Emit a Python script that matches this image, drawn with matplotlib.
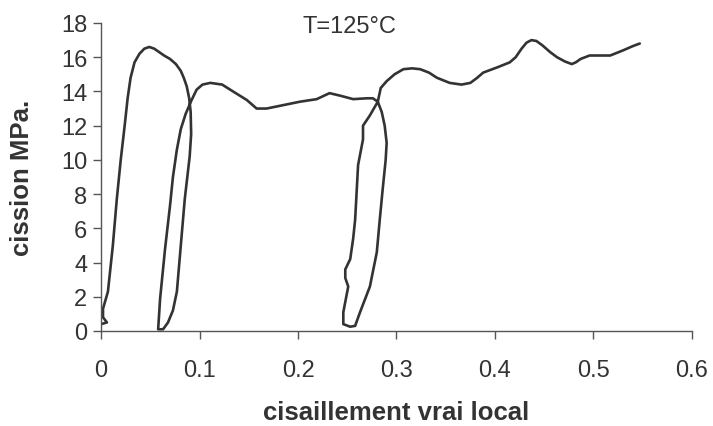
import matplotlib
matplotlib.use("Agg")
import matplotlib.pyplot as plt

# Courbe cission / cisaillement (un seul tracé continu avec décharges)
cisaillement = [
    0.000, 0.006, 0.002, 0.002, 0.007, 0.012, 0.016, 0.020, 0.024, 0.027,
    0.030, 0.034, 0.039, 0.044, 0.049, 0.054, 0.059, 0.064, 0.070, 0.076,
    0.081, 0.084, 0.087, 0.0895, 0.091, 0.0915, 0.090, 0.088, 0.085, 0.081,
    0.077, 0.073, 0.068, 0.063, 0.058, 0.060, 0.065, 0.070, 0.073, 0.077,
    0.081, 0.086, 0.092, 0.097, 0.103, 0.111, 0.123, 0.134, 0.148, 0.158,
    0.168, 0.185, 0.202, 0.219, 0.232, 0.243, 0.256, 0.270, 0.276, 0.281,
    0.285, 0.288, 0.290, 0.289, 0.286, 0.283, 0.280, 0.273, 0.263, 0.258,
    0.253, 0.246, 0.246, 0.249, 0.251, 0.248, 0.248, 0.253, 0.256, 0.258,
    0.261, 0.266, 0.266, 0.273, 0.281, 0.284, 0.290, 0.298, 0.307, 0.316,
    0.324, 0.333, 0.341, 0.354, 0.366, 0.375, 0.382, 0.388, 0.402, 0.415,
    0.421, 0.427, 0.432, 0.437, 0.442, 0.448, 0.456, 0.463, 0.471, 0.478,
    0.482, 0.487, 0.496, 0.507, 0.517, 0.530, 0.540, 0.547,
]
cission = [
    0.4, 0.5, 0.8, 1.3, 2.3, 5.0, 7.7, 10.0, 12.0, 13.6,
    14.8, 15.7, 16.2, 16.5, 16.6, 16.5, 16.3, 16.1, 15.9, 15.6,
    15.2, 14.8, 14.3, 13.6, 12.8, 11.5, 10.2, 9.2, 7.7, 5.0,
    2.3, 1.2, 0.5, 0.1, 0.1, 1.9, 4.8, 7.3, 9.0, 10.6,
    11.8, 12.7, 13.5, 14.1, 14.4, 14.5, 14.4, 14.0, 13.5, 13.0,
    13.0, 13.2, 13.4, 13.55, 13.9, 13.75, 13.55, 13.6, 13.6, 13.4,
    12.8, 12.0, 11.0, 10.0, 8.3, 6.5, 4.6, 2.6, 1.1, 0.3,
    0.25, 0.4, 1.1, 2.0, 2.6, 3.1, 3.6, 4.2, 5.4, 6.5,
    9.7, 11.2, 12.0, 12.6, 13.4, 14.2, 14.6, 15.0, 15.3, 15.35,
    15.3, 15.1, 14.8, 14.5, 14.4, 14.5, 14.8, 15.1, 15.4, 15.7,
    16.0, 16.5, 16.85, 17.0, 16.95, 16.7, 16.3, 16.0, 15.75, 15.6,
    15.7, 15.9, 16.1, 16.1, 16.1, 16.4, 16.65, 16.8,
]

x_ticks = [0, 0.1, 0.2, 0.3, 0.4, 0.5, 0.6]
x_labels = ["0", "0.1", "0.2", "0.3", "0.4", "0.5", "0.6"]
y_ticks = list(range(0, 19, 2))

GRIS = "#333333"

plt.rcParams["font.family"] = ["Liberation Sans", "DejaVu Sans"]

fig = plt.figure(figsize=(7.13, 4.27), dpi=100)
ax = fig.add_axes([0.1417, 0.2225, 0.8288, 0.7213])

ax.plot(cisaillement, cission, color=GRIS, lw=1.9,
        solid_joinstyle="round", solid_capstyle="round")

ax.set_xlim(0, 0.6)
ax.set_ylim(0, 18)
ax.set_xticks(x_ticks)
ax.set_xticklabels(x_labels)
ax.set_yticks(y_ticks)

for side in ("top", "right"):
    ax.spines[side].set_visible(False)
for side in ("left", "bottom"):
    ax.spines[side].set_color("#555555")
    ax.spines[side].set_linewidth(1.0)

ax.tick_params(axis="both", direction="out", length=6, width=1.0,
               color="#555555", labelsize=17, labelcolor=GRIS)
ax.tick_params(axis="x", pad=14)
ax.tick_params(axis="y", pad=4)

ax.set_xlabel("cisaillement vrai local", fontsize=18.5, fontweight="bold",
              color=GRIS, labelpad=14)
ax.set_ylabel("cission MPa.", fontsize=18.5, fontweight="bold",
              color=GRIS, labelpad=19)

ax.text(0.252, 17.8, "T=125°C", fontsize=17, color=GRIS,
        ha="center", va="center")

fig.savefig("out.png", dpi=100)
